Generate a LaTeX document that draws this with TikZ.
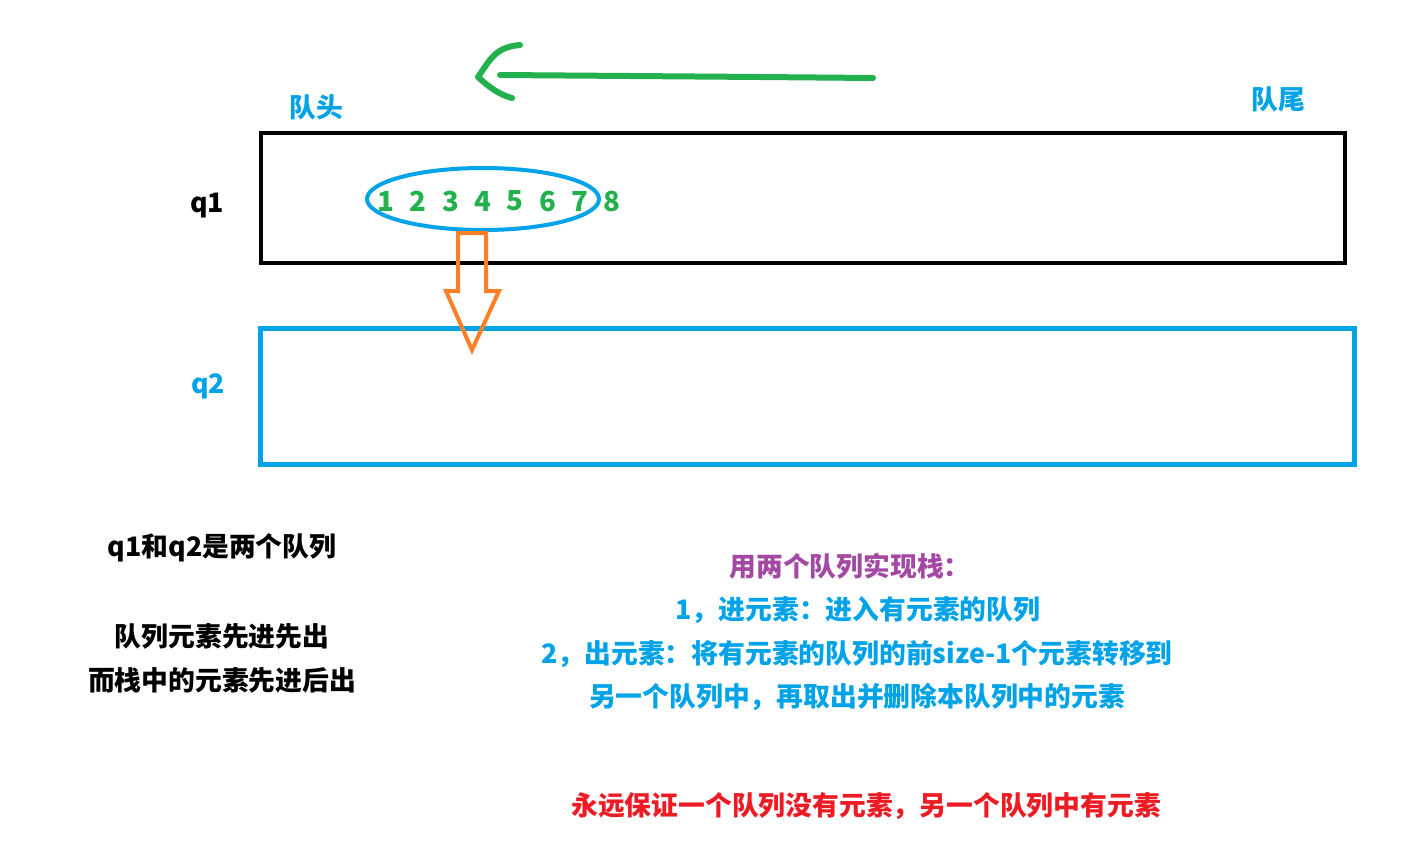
\documentclass[tikz,border=0pt]{standalone}
\usepackage{fontspec}
\usepackage{tikz}
\usetikzlibrary{positioning,arrows.meta,calc}
\newfontfamily\cjk{Noto Sans CJK SC}
\definecolor{qblue}{HTML}{00A2E8}
\definecolor{qgreen}{HTML}{22B14C}
\definecolor{qorange}{HTML}{FF7F27}
\definecolor{qpurple}{HTML}{A349A4}
\definecolor{qred}{HTML}{ED1C24}
\tikzset{
  txt/.style={font=\cjk\bfseries\fontsize{13.4}{16}\selectfont,inner sep=0pt},
  qbox/.style={draw,line width=2.2pt,inner sep=0pt},
  digit/.style={txt,text=qgreen,font=\cjk\bfseries\fontsize{13.8}{16}\selectfont},
}

\begin{document}
\begin{tikzpicture}[x=0.5pt,y=-0.5pt]
\useasboundingbox (0,0) rectangle (1424,867);

% queues
\draw[qbox] (261,133) rectangle (1345,263);
\draw[qbox,qblue,line width=2.5pt] (260,328) rectangle (1354,464);
\node[txt] (q1) at (207,206) {q1};
\node[txt,text=qblue] (q2) at (208,386) {q2};
\node[txt,text=qblue] (head) at (316,107) {队头};
\node[txt,text=qblue] (tail) at (1278,99) {队尾};

% elements
\foreach \i in {1,...,8}
  \node[digit] (e\i) at ({386+(\i-1)*32.3},201) {\i};
\draw[qblue,line width=2pt] (483,199) ellipse [x radius=116, y radius=31];

% direction of the queue
\coordinate (gstart) at (873,78);
\coordinate (gtip) at (478,77);
\draw[qgreen,line width=3pt,line cap=round] (gstart) -- (760,77) -- (500,75);
\draw[qgreen,line width=3pt,line cap=round,line join=round]
  (520,45) .. controls (495,47) and (490,60) .. (gtip)
  .. controls (490,88) and (500,95) .. (512,98);

% move down to q2
\draw[qorange,line width=2pt,line join=miter]
  (458,233) -- (486,233) -- (486,291) -- (499,291) -- (472,350)
  -- (446,291) -- (458,291) -- cycle;

% notes
\node[txt] (n1) at (222,548) {q1和q2是两个队列};
\node[txt] (n2) at (222,636) {队列元素先进先出};
\node[txt] (n3) at (222,680) {而栈中的元素先进后出};

\node[txt,text=qpurple] (m0) at (850,566) {用两个队列实现栈：};
\node[txt,text=qblue] (m1) at (858,610) {1，进元素：进入有元素的队列};
\node[txt,text=qblue] (m2) at (857,654) {2，出元素：将有元素的队列的前size-1个元素转移到};
\node[txt,text=qblue] (m3) at (857,697) {另一个队列中，再取出并删除本队列中的元素};
\node[txt,text=qred] (m4) at (866,806) {永远保证一个队列没有元素，另一个队列中有元素};
\end{tikzpicture}
\end{document}
